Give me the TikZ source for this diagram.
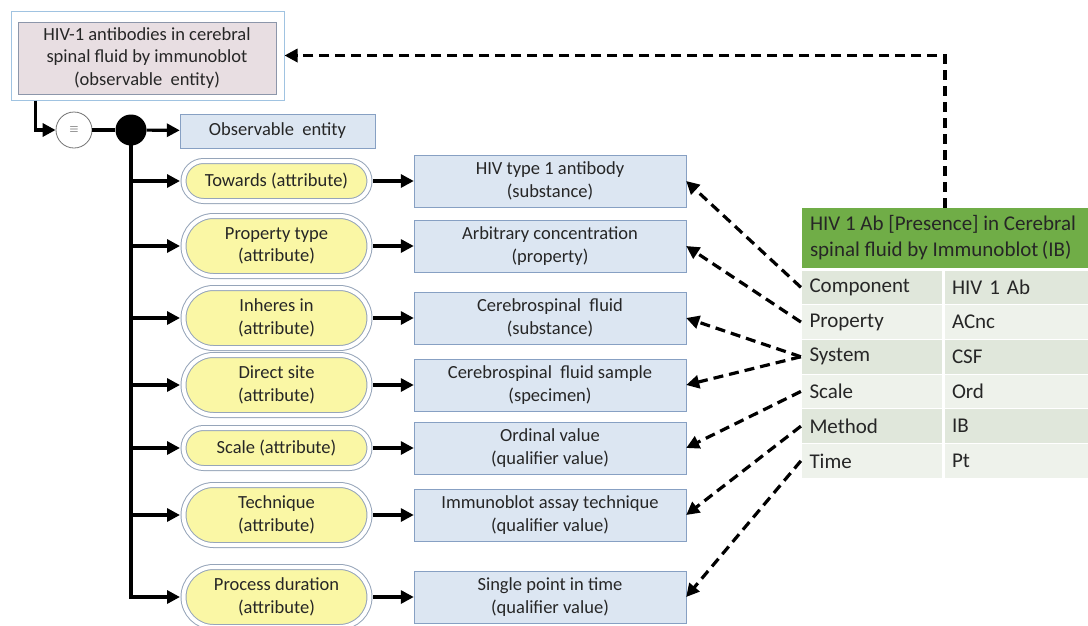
\documentclass[tikz,border=0pt]{standalone}
\usepackage{fontspec}
\setmainfont{Carlito}
\usetikzlibrary{arrows.meta,shapes.misc,calc}

\definecolor{boxfill}{RGB}{220,230,242}
\definecolor{boxline}{RGB}{135,160,195}
\definecolor{attrfill}{RGB}{250,247,165}
\definecolor{attrline}{RGB}{150,165,185}
\definecolor{topfill}{RGB}{232,222,226}
\definecolor{topline}{RGB}{140,150,170}
\definecolor{outline}{RGB}{160,195,225}
\definecolor{hdrgreen}{RGB}{112,173,71}
\definecolor{rowdark}{RGB}{224,231,219}
\definecolor{rowlight}{RGB}{238,242,235}

\begin{document}
\begin{tikzpicture}[x=1pt, y=-1pt, >={Triangle[length=13pt,width=13pt]},
		font=\fontsize{18.5}{22.5}\selectfont,
		every node/.style={text=black!85},
		conn/.style={->, line width=3.2pt},
		dconn/.style={->, line width=3.2pt, dash pattern=on 10pt off 6pt},
		conbox/.style={draw=boxline, fill=boxfill, minimum width=272pt, minimum height=52pt, inner sep=0pt, align=center},
		attr/.style={rounded rectangle, draw=attrline, line width=1pt, double=white, double distance=4pt,
			fill=attrfill, minimum width=186pt, minimum height=#1, inner sep=0pt, align=center},
		cell/.style={draw=white, line width=1.2pt, minimum height=34.7pt, text width=#1, align=left, inner xsep=8pt,
			font=\fontsize{21}{26}\selectfont}]
	\useasboundingbox (0,0) rectangle (1088,625);
	% concept being defined
	\node[draw=outline, fill=white, line width=1pt, minimum width=273pt, minimum height=89pt] (topbox) at (147.5,55.5) {};
	\node[draw=topline, fill=topfill, minimum width=258pt, minimum height=72pt, align=center] (topname) at (147,58)
		{HIV-1 antibodies in cerebral\\spinal fluid by immunoblot\\(observable\ \ entity)};
	\node[circle, draw=black!55, fill=white, line width=0.8pt, minimum size=36pt, inner sep=0pt] (eqv) at (74,130)
		{\fontsize{12}{12}\selectfont$\equiv$};
	\node[circle, fill=black, minimum size=31pt, inner sep=0pt] (hub) at (131,130) {};
	\node[conbox, minimum width=195pt, minimum height=34pt] (obs) at (277.5,131) {Observable\ \ entity};
	\draw[conn] ([xshift=25pt]topbox.south west) |- (eqv);
	\draw[line width=3.2pt] (eqv) -- (hub);
	\draw[conn] (hub) -- (obs);
	% attribute rows
	\foreach \i/\y/\h/\att/\con in {
		1/181/40pt/{Towards (attribute)}/{HIV type 1 antibody\\(substance)},
		2/246/60pt/{Property type\\(attribute)}/{Arbitrary concentration\\(property)},
		3/318/60pt/{Inheres in\\(attribute)}/{Cerebrospinal\ \ fluid\\(substance)},
		4/385/60pt/{Direct site\\(attribute)}/{Cerebrospinal\ \ fluid sample\\(specimen)},
		5/448/40pt/{Scale (attribute)}/{Ordinal value\\(qualifier value)},
		6/515/60pt/{Technique\\(attribute)}/{Immunoblot assay technique\\(qualifier value)},
		7/597/60pt/{Process duration\\(attribute)}/{Single point in time\\(qualifier value)}} {
		\node[attr=\h] (att\i) at (276.5,\y) {\att};
		\node[conbox] (con\i) at (550,\y) {\con};
		\draw[conn, shorten <=3pt] (att\i.east) -- (con\i.west);
	}
	\draw[conn, shorten >=3pt] (hub.center) |- (att7.west);
	\foreach \i in {1,...,6}
		\draw[conn, shorten >=3pt] (hub.center |- att\i.west) -- (att\i.west);
	% LOINC table
	\node[fill=hdrgreen, minimum width=286pt, minimum height=60pt] (hdr) at (945,238) {};
	\node[anchor=west, align=left, inner sep=0pt, font=\fontsize{21}{26}\selectfont] (hdrtext) at ([xshift=8pt]hdr.west)
		{HIV 1 Ab [Presence] in Cerebral\\spinal fluid by Immunoblot\,(IB)};
	\foreach \key/\code [count=\i] in {Component/HIV 1 Ab, Property/ACnc, System/CSF, Scale/Ord, Method/IB, Time/Pt} {
		\pgfmathsetmacro{\y}{270+(\i-0.5)*34.7}
		\pgfmathtruncatemacro{\odd}{mod(\i,2)}
		\ifnum\odd=1 \def\rowcol{rowdark}\else\def\rowcol{rowlight}\fi
		\node[cell=125pt, fill=\rowcol] (key\i) at (872,\y) {\key};
		\node[cell=129pt, fill=\rowcol] (code\i) at (1016.5,\y) {\code};
	}
	\draw[dconn] (hdr.north) |- (topbox.east);
	\draw[dconn] (key1.west) -- (con1.east);
	\draw[dconn] (key2.west) -- (con2.east);
	\draw[dconn] (key3.west) -- (con3.east);
	\draw[dconn] (key3.west) -- (con4.east);
	\draw[dconn] (key4.west) -- (con5.east);
	\draw[dconn] (key5.west) -- (con6.east);
	\draw[dconn] (key6.west) -- (con7.east);
\end{tikzpicture}
\end{document}
